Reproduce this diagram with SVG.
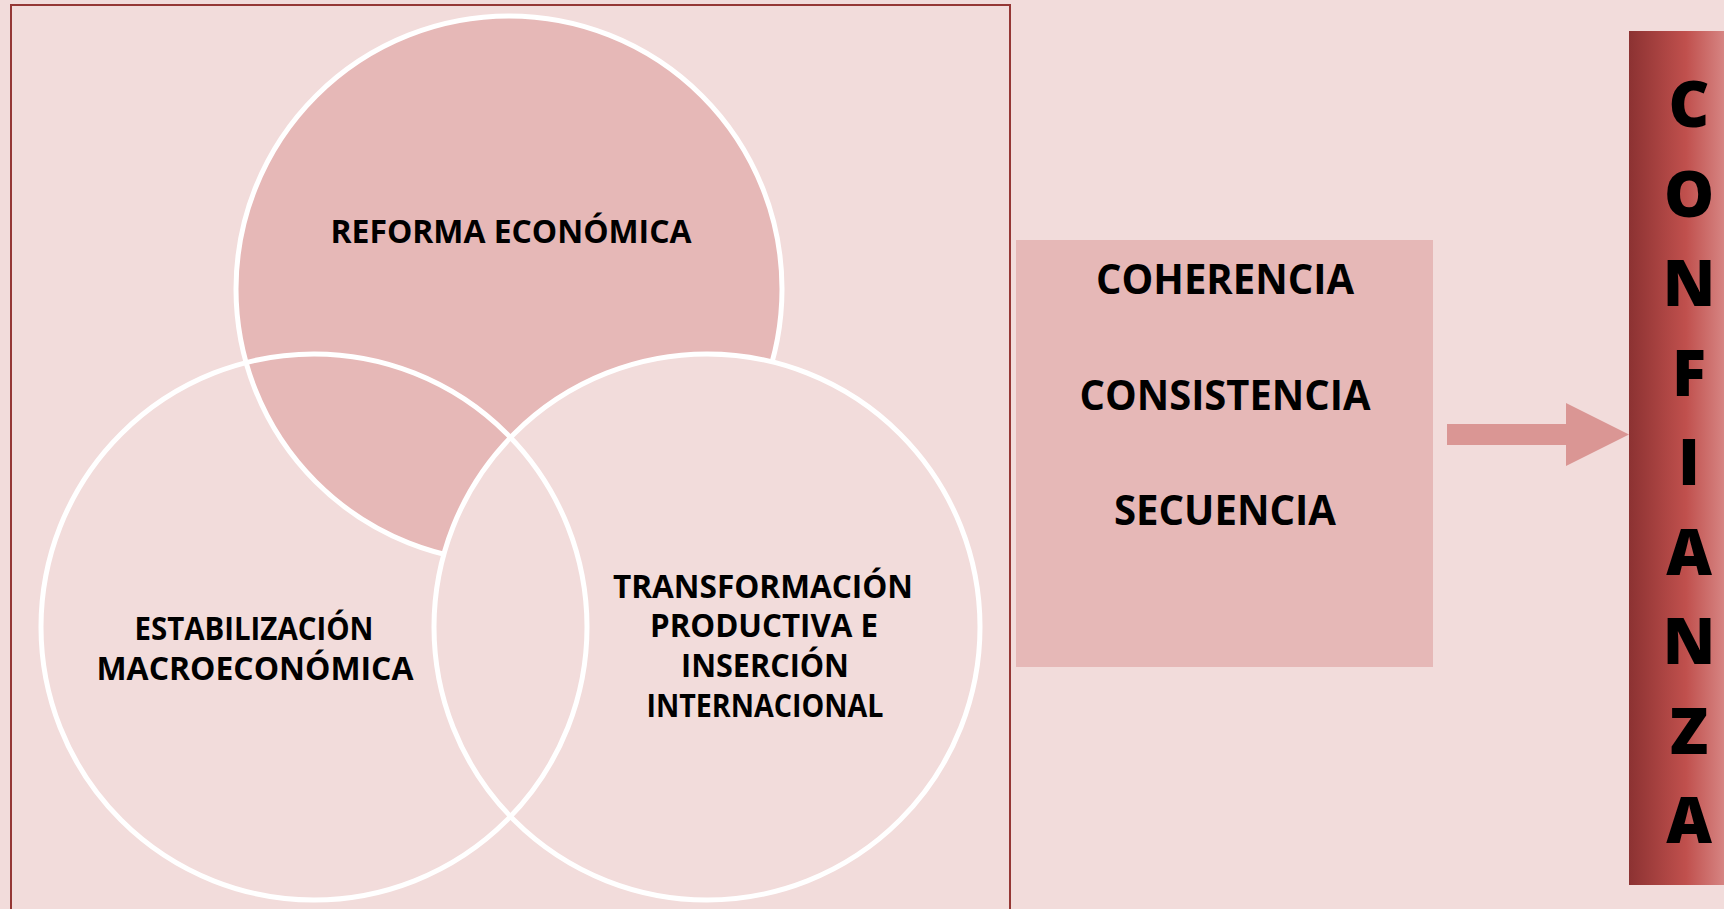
<svg xmlns="http://www.w3.org/2000/svg" width="1724" height="909" viewBox="0 0 1724 909">
  <defs>
    <linearGradient id="barGrad" x1="0" y1="0" x2="1" y2="0">
      <stop offset="0" stop-color="#8C3232"/>
      <stop offset="0.6" stop-color="#C0504D"/>
      <stop offset="1" stop-color="#D68482"/>
    </linearGradient>
  </defs>
  <style>
    .circ { stroke: #FFFFFF; stroke-width: 5; }
    .lbl { font-family: "Open Sans", Lato, "Liberation Sans", sans-serif; font-weight: 700; font-size: 31.5px; fill: #000000; text-anchor: middle; }
    .big { font-family: "Open Sans", Lato, "Liberation Sans", sans-serif; font-weight: 700; font-size: 40.5px; fill: #000000; text-anchor: middle; }
    .vert { font-family: "Open Sans", Lato, "Liberation Sans", sans-serif; font-weight: 800; font-size: 63px; fill: #000000; text-anchor: middle; }
  </style>
  <rect x="0" y="0" width="1724" height="909" fill="#F2DCDB"/>
  <path d="M11,930 V5 H1010 V930" fill="none" stroke="#953735" stroke-width="2"/>

  <g id="node-reforma">
    <circle class="circ" cx="509" cy="289" r="273" fill="#E6B8B7"/>
    <text class="lbl" x="511" y="243" textLength="361" lengthAdjust="spacingAndGlyphs">REFORMA ECONÓMICA</text>
  </g>

  <g id="node-transformacion">
    <circle class="circ" cx="707" cy="627" r="273" fill="#F2DCDB"/>
    <text class="lbl" x="763" y="598" textLength="300" lengthAdjust="spacingAndGlyphs">TRANSFORMACIÓN</text>
    <text class="lbl" x="764" y="637" textLength="228" lengthAdjust="spacingAndGlyphs">PRODUCTIVA E</text>
    <text class="lbl" x="765" y="677" textLength="168" lengthAdjust="spacingAndGlyphs">INSERCIÓN</text>
    <text class="lbl" x="765" y="717" textLength="237" lengthAdjust="spacingAndGlyphs">INTERNACIONAL</text>
  </g>

  <g id="node-estabilizacion">
    <circle class="circ" cx="314" cy="627" r="273" fill="none"/>
    <text class="lbl" x="254" y="640" textLength="239" lengthAdjust="spacingAndGlyphs">ESTABILIZACIÓN</text>
    <text class="lbl" x="255" y="680" textLength="317" lengthAdjust="spacingAndGlyphs">MACROECONÓMICA</text>
  </g>

  <g id="node-principios">
    <rect x="1016" y="240" width="417" height="427" fill="#E6B8B7"/>
    <text class="big" x="1225" y="294" textLength="258" lengthAdjust="spacingAndGlyphs">COHERENCIA</text>
    <text class="big" x="1225" y="410" textLength="291" lengthAdjust="spacingAndGlyphs">CONSISTENCIA</text>
    <text class="big" x="1225" y="525" textLength="222" lengthAdjust="spacingAndGlyphs">SECUENCIA</text>
  </g>

  <g id="node-confianza">
    <rect x="1629" y="31" width="95" height="854" fill="url(#barGrad)"/>
    <text class="vert" x="1689" y="127">C</text>
    <text class="vert" x="1689" y="216.5">O</text>
    <text class="vert" x="1689" y="306">N</text>
    <text class="vert" x="1689" y="395.5">F</text>
    <text class="vert" x="1689" y="485">I</text>
    <text class="vert" x="1689" y="574.5">A</text>
    <text class="vert" x="1689" y="664">N</text>
    <text class="vert" x="1689" y="753.5">Z</text>
    <text class="vert" x="1689" y="843">A</text>
  </g>

  <g id="connectors">
    <polygon points="1447,424 1566,424 1566,403 1629,434.5 1566,466 1566,445 1447,445" fill="#DA9694"/>
  </g>
</svg>
